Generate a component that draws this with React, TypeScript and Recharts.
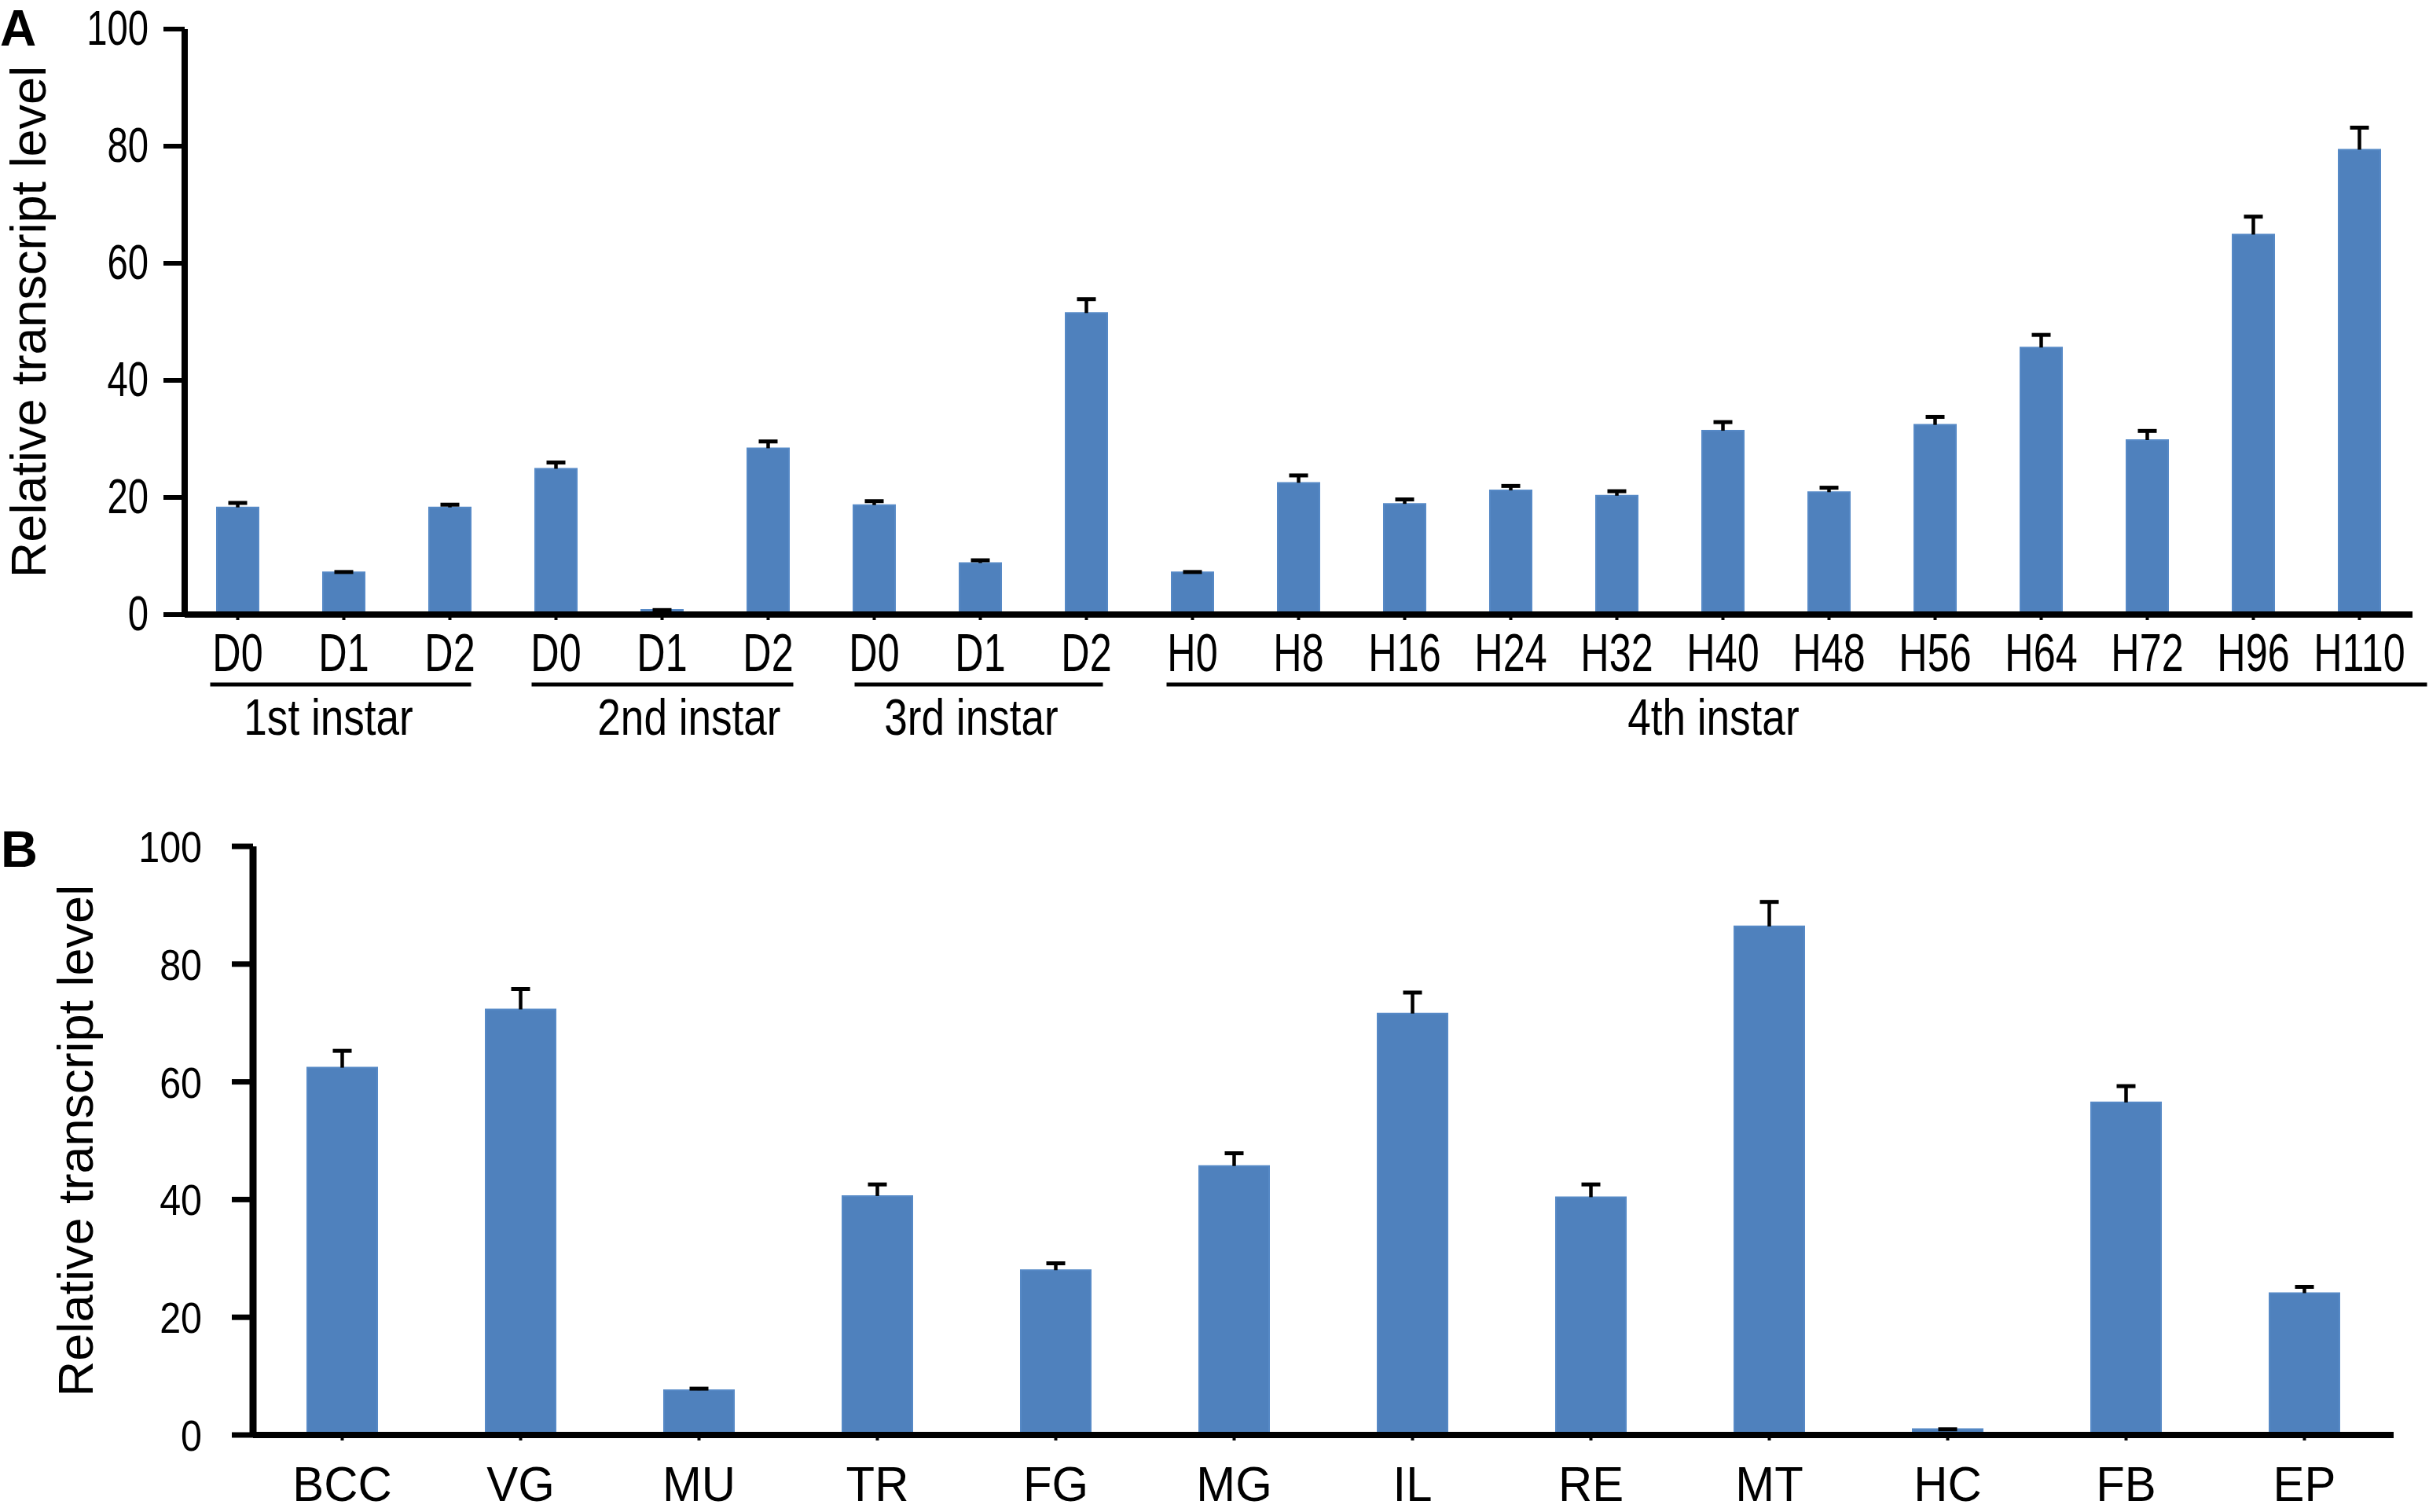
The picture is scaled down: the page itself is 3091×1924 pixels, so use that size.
import React from 'react';
import { BarChart, Bar, XAxis, YAxis } from 'recharts';

// ---------- data ----------
const stageLabels = ['D0', 'D1', 'D2', 'D0', 'D1', 'D2', 'D0', 'D1', 'D2', 'H0', 'H8', 'H16', 'H24', 'H32', 'H40', 'H48', 'H56', 'H64', 'H72', 'H96', 'H110'];
const stageValues = [18.3, 7.2, 18.3, 24.9, 0.8, 28.4, 18.7, 8.8, 51.5, 7.2, 22.5, 18.9, 21.2, 20.3, 31.4, 20.9, 32.4, 45.6, 29.8, 64.9, 79.4];
const stageErrors = [1.1, 0.4, 0.8, 1.4, 0.3, 1.5, 1.0, 0.8, 2.7, 0.4, 1.6, 1.1, 1.1, 1.1, 1.8, 1.1, 1.7, 2.5, 1.9, 3.4, 4.1];
const stageGroups = ['1st instar', '2nd instar', '3rd instar', '4th instar'];
const stageGroupRanges = [[0, 2], [3, 5], [6, 8], [9, 20]];

const tissueLabels = ['BCC', 'VG', 'MU', 'TR', 'FG', 'MG', 'IL', 'RE', 'MT', 'HC', 'FB', 'EP'];
const tissueValues = [62.4, 72.3, 7.6, 40.6, 28.0, 45.7, 71.6, 40.4, 86.4, 1.0, 56.5, 24.1];
const tissueErrors = [3.2, 3.8, 0.6, 2.3, 1.5, 2.5, 3.9, 2.5, 4.5, 0.3, 3.1, 1.4];

const yTicks = [0, 20, 40, 60, 80, 100];
const yTitle = 'Relative transcript level';

// ---------- layout / style ----------
const FONT = "'Liberation Sans', Arial, Helvetica, sans-serif";
const BAR_FILL = '#4f81bd';
const BAR_EDGE = '#5689c6';
const W = 3091;

const A_H = 960;
const A_MARGIN = { top: 37, right: 21, left: 0, bottom: 0 };
const A_YW = 235;
const A_PLOT_H = 745;
const A_STEP = (W - A_MARGIN.left - A_MARGIN.right - A_YW) / stageLabels.length;
const GROUP_PAD_L = [35, 31, 25, 33];
const GROUP_PAD_R = [27, 32, 21, 86];
const GROUP_LABEL_POS = [0.856, 4.255, 6.915, 13.91];

const B_TOP = 1000;
const B_H = 924;
const B_MARGIN = { top: 77, right: 45, left: 0, bottom: 0 };
const B_YW = 322;
const B_PLOT_H = 749;

const stageData = stageLabels.map((l, i) => ({ key: `s${i}`, value: stageValues[i], err: stageErrors[i] }));
const tissueData = tissueLabels.map((l, i) => ({ key: l, value: tissueValues[i], err: tissueErrors[i] }));

const ErrShape = (p: any) => {
  const { x, y, width, height } = p;
  if (x == null || y == null) return null;
  const cx = x + width / 2;
  return (
    <g>
      <line x1={cx} x2={cx} y1={y + height} y2={y + 1} stroke="#000" strokeWidth={4.5} />
      <line x1={cx - 12} x2={cx + 12} y1={y + 2.5} y2={y + 2.5} stroke="#000" strokeWidth={5} />
    </g>
  );
};

const makeYTick = (fontSize: number, sx: number, dy: number) => (p: any) => {
  const { x, y, payload } = p;
  return (
    <text
      transform={`translate(${x},${y + dy}) scale(${sx},1)`}
      textAnchor="end"
      fontSize={fontSize}
      fontFamily={FONT}
      fill="#000"
    >
      {payload.value}
    </text>
  );
};

const YTitle = (p: any) => {
  const vb = p.viewBox || { x: 0, y: 0, width: 0, height: 0 };
  const bx = p.bx;
  return (
    <text
      transform={`translate(${vb.x + bx},${vb.y + vb.height / 2}) rotate(-90)`}
      textAnchor="middle"
      fontSize={63}
      fontFamily={FONT}
      fill="#000"
    >
      {yTitle}
    </text>
  );
};

const StageTick = (p: any) => {
  const { x, y } = p;
  const index = p.index ?? (p.payload && p.payload.index) ?? 0;
  const items: any[] = [
    <text
      key="t"
      transform={`translate(${x},${y + 64}) scale(0.74,1)`}
      textAnchor="middle"
      fontSize={68}
      fontFamily={FONT}
      fill="#000"
    >
      {stageLabels[index]}
    </text>,
  ];
  stageGroupRanges.forEach(([s, e], gi) => {
    if (s === index) {
      items.push(
        <line
          key={`l${gi}`}
          x1={x - GROUP_PAD_L[gi]}
          x2={x + (e - s) * A_STEP + GROUP_PAD_R[gi]}
          y1={y + 81}
          y2={y + 81}
          stroke="#000"
          strokeWidth={5}
        />
      );
      items.push(
        <text
          key={`g${gi}`}
          transform={`translate(${x + (GROUP_LABEL_POS[gi] - s) * A_STEP},${y + 145}) scale(0.83,1)`}
          textAnchor="middle"
          fontSize={64}
          fontFamily={FONT}
          fill="#000"
        >
          {stageGroups[gi]}
        </text>
      );
    }
  });
  return <g>{items}</g>;
};

const TissueTick = (p: any) => {
  const { x, y, payload } = p;
  return (
    <text
      transform={`translate(${x},${y + 76}) scale(0.95,1)`}
      textAnchor="middle"
      fontSize={63}
      fontFamily={FONT}
      fill="#000"
    >
      {payload.value}
    </text>
  );
};

export default function App() {
  return (
    <div style={{ position: 'absolute', left: 0, top: 0, width: W, height: 1924, background: '#fff' }}>
      <div style={{ position: 'absolute', left: 0, top: 0 }}>
        <BarChart width={W} height={A_H} data={stageData} margin={A_MARGIN}>
          <XAxis
            dataKey="key"
            interval={0}
            height={A_H - A_MARGIN.top - A_PLOT_H}
            axisLine={{ stroke: '#000', strokeWidth: 8 }}
            tickLine={{ stroke: '#000', strokeWidth: 4 }}
            tickSize={7}
            tickMargin={1}
            tick={<StageTick />}
          />
          <YAxis
            width={A_YW}
            domain={[0, 100]}
            ticks={yTicks}
            interval={0}
            axisLine={{ stroke: '#000', strokeWidth: 8 }}
            tickLine={{ stroke: '#000', strokeWidth: 6 }}
            tickSize={27}
            tickMargin={19}
            tick={makeYTick(63, 0.75, 20)}
            label={<YTitle bx={58} />}
          />
          <Bar dataKey="value" stackId="a" fill={BAR_FILL} stroke={BAR_EDGE} strokeWidth={2} barSize={53} isAnimationActive={false} />
          <Bar dataKey="err" stackId="a" fill="none" barSize={53} shape={ErrShape} isAnimationActive={false} />
        </BarChart>
      </div>
      <div style={{ position: 'absolute', left: 0, top: B_TOP }}>
        <BarChart width={W} height={B_H} data={tissueData} margin={B_MARGIN}>
          <XAxis
            dataKey="key"
            interval={0}
            height={B_H - B_MARGIN.top - B_PLOT_H}
            axisLine={{ stroke: '#000', strokeWidth: 8 }}
            tickLine={{ stroke: '#000', strokeWidth: 4 }}
            tickSize={7}
            tickMargin={1}
            tick={<TissueTick />}
          />
          <YAxis
            width={B_YW}
            domain={[0, 100]}
            ticks={yTicks}
            interval={0}
            axisLine={{ stroke: '#000', strokeWidth: 9 }}
            tickLine={{ stroke: '#000', strokeWidth: 7 }}
            tickSize={27}
            tickMargin={38}
            tick={makeYTick(55, 0.88, 20)}
            label={<YTitle bx={118} />}
          />
          <Bar dataKey="value" stackId="a" fill={BAR_FILL} stroke={BAR_EDGE} strokeWidth={2} barSize={89} isAnimationActive={false} />
          <Bar dataKey="err" stackId="a" fill="none" barSize={89} shape={ErrShape} isAnimationActive={false} />
        </BarChart>
      </div>
      <svg width={W} height={1924} style={{ position: 'absolute', left: 0, top: 0, pointerEvents: 'none' }}>
        <text x={0} y={58} fontSize={64} fontWeight="bold" fontFamily={FONT} fill="#000">A</text>
        <text x={1} y={1103} fontSize={65} fontWeight="bold" fontFamily={FONT} fill="#000">B</text>
      </svg>
    </div>
  );
}
